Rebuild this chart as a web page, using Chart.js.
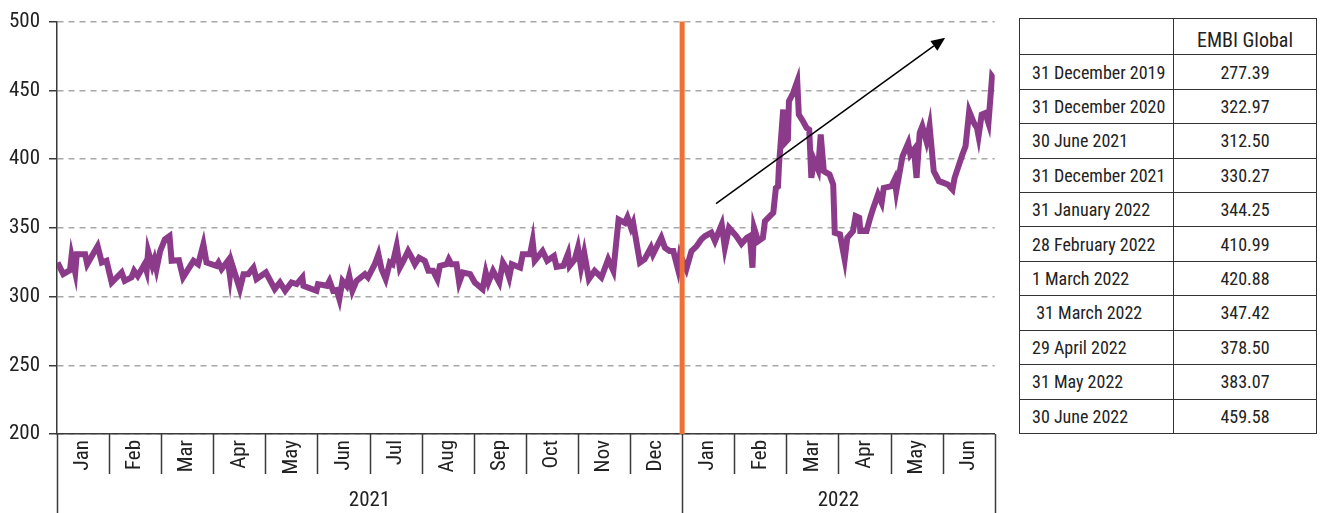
<!DOCTYPE html>
<html>
<head>
<meta charset="utf-8">
<script src="https://cdn.jsdelivr.net/npm/chart.js@4/dist/chart.umd.min.js"></script>
<style>
    html, body { margin: 0; padding: 0; background: #fff; }
    body { width: 1324px; height: 513px; position: relative; overflow: hidden; }
    #chartBox { position: absolute; left: 0; top: 0; width: 1000px; height: 513px; }
    #spreadTable {
        position: absolute; left: 1019px; top: 18px; width: 298px; height: 416px;
        border-collapse: collapse;
        font-family: 'Roboto Condensed', 'Roboto', sans-serif;
        font-size: 18px; color: #222; white-space: nowrap;
    }
    #spreadTable td { border: 1.5px solid #333; padding: 0 0 0 12px; height: 33px; }
    #spreadTable td.val { text-align: center; padding: 0; width: 142px; }
    #spreadTable tr.head td { vertical-align: bottom; padding-bottom: 2px; font-size: 20px; }
</style>
</head>
<body>
<div id="chartBox"><canvas id="spreadChart"></canvas></div>
<table id="spreadTable"></table>
<script>
// month labels under the axis
const months = ['Jan', 'Feb', 'Mar', 'Apr', 'May', 'Jun', 'Jul', 'Aug', 'Sep', 'Oct', 'Nov', 'Dec',
    'Jan', 'Feb', 'Mar', 'Apr', 'May', 'Jun'];
const years = ['2021', '2022'];
const yearBounds = [0, 12, 18];

// position in months since 1 Jan 2021, spread in bp
const monthPos = [
    0.01, 0.12, 0.25, 0.28, 0.35, 0.38, 0.54, 0.58, 0.67, 0.78, 0.86, 0.95,
    1.05, 1.24, 1.30, 1.43, 1.48, 1.55, 1.68, 1.72, 1.75, 1.83, 1.87, 1.91, 1.98,
    2.07, 2.16, 2.20, 2.34, 2.42, 2.62, 2.71, 2.81, 2.87,
    3.06, 3.10, 3.16, 3.28, 3.32, 3.35, 3.51, 3.58, 3.67, 3.77, 3.83,
    4.01, 4.18, 4.28, 4.38, 4.50, 4.60, 4.71, 4.73, 4.98,
    5.01, 5.18, 5.23, 5.30, 5.37, 5.42, 5.48, 5.56, 5.61, 5.67, 5.75, 5.91, 5.97,
    6.10, 6.17, 6.23, 6.31, 6.39, 6.44, 6.52, 6.58, 6.65, 6.74, 6.81, 6.87, 6.95,
    7.06, 7.13, 7.22, 7.30, 7.35, 7.48, 7.52, 7.57, 7.67, 7.72, 7.79, 7.93,
    8.02, 8.17, 8.23, 8.28, 8.37, 8.49, 8.56, 8.62, 8.68, 8.73, 8.89, 8.94,
    9.08, 9.13, 9.17, 9.32, 9.41, 9.54, 9.59, 9.72, 9.81, 9.84, 9.94,
    10.00, 10.06, 10.12, 10.21, 10.32, 10.45, 10.58, 10.68, 10.78, 10.90, 10.95,
    11.02, 11.06, 11.19, 11.28, 11.40, 11.44, 11.60, 11.67, 11.76, 11.83, 11.92, 11.96,
    12.08, 12.18, 12.28, 12.37, 12.44, 12.56, 12.63, 12.76, 12.82, 12.90,
    13.04, 13.14, 13.24, 13.30, 13.35, 13.38, 13.46, 13.55, 13.59, 13.75, 13.80, 13.84, 13.86, 13.94, 13.97,
    14.03, 14.05, 14.13, 14.21, 14.24, 14.32, 14.39, 14.44, 14.48, 14.53, 14.61, 14.66, 14.72, 14.83, 14.90, 14.93,
    15.03, 15.12, 15.17, 15.28, 15.33, 15.40, 15.42, 15.54, 15.61, 15.66, 15.76, 15.83, 15.87,
    16.02, 16.08, 16.11, 16.23, 16.34, 16.38, 16.45, 16.50, 16.56, 16.61, 16.69, 16.75, 16.83, 16.93,
    17.02, 17.10, 17.19, 17.23, 17.38, 17.44, 17.51, 17.60, 17.66, 17.69, 17.75, 17.82, 17.88, 17.95, 18.0
];
const embiSpread = [
    324.7, 316.3, 319.2, 329.5, 317.5, 330.7, 330.7, 323.5, 329.5, 336.7, 324.7, 326.0,
    310.2, 317.5, 311.4, 313.9, 318.7, 315.0, 323.5, 318.7, 333.0, 322.3, 327.0, 320.0, 333.0,
    341.6, 344.0, 326.0, 326.4, 313.9, 326.0, 323.5, 338.0, 324.7,
    322.3, 324.7, 320.0, 326.0, 315.0, 324.7, 305.4, 316.3, 316.3, 321.0, 312.7,
    317.5, 305.4, 310.2, 304.2, 310.2, 309.0, 313.9, 307.8, 304.2,
    309.0, 307.8, 311.4, 304.2, 304.7, 298.2, 311.4, 307.8, 315.0, 304.2, 311.4, 316.3, 313.9,
    323.5, 330.7, 320.0, 312.7, 324.7, 323.5, 336.7, 321.0, 326.0, 333.1, 328.3, 323.5, 328.3,
    326.0, 318.7, 318.7, 312.7, 322.3, 323.5, 327.0, 323.5, 323.5, 310.2, 317.5, 316.3,
    310.2, 305.4, 317.5, 310.2, 318.7, 310.2, 324.7, 321.0, 313.9, 323.5, 321.0, 330.7,
    330.7, 340.4, 326.0, 333.1, 326.0, 329.5, 321.6, 322.3, 331.2, 322.3, 327.1,
    335.5, 321.0, 331.9, 312.7, 318.7, 313.9, 327.1, 318.7, 356.0, 353.6, 357.7,
    350.0, 353.6, 324.7, 327.1, 335.5, 330.7, 342.8, 335.5, 333.1, 333.1, 319.9, 330.7,
    319.9, 333.1, 336.7, 341.6, 344.0, 346.4, 340.4, 352.4, 335.5, 350.0,
    344.0, 338.4, 342.7, 344.0, 321.0, 350.0, 340.3, 342.7, 354.8, 361.0, 379.0, 380.0, 396.0, 436.0, 411.7,
    414.2, 442.0, 448.0, 456.5, 432.3, 427.5, 422.6, 421.4, 386.3, 399.6, 392.4, 417.8, 391.2, 388.7, 381.5, 346.4,
    345.2, 327.0, 342.7, 347.6, 358.5, 357.3, 347.6, 347.6, 357.3, 363.3, 374.2, 368.2, 379.0,
    380.3, 385.1, 376.6, 402.0, 411.7, 403.3, 406.9, 386.3, 419.0, 423.9, 413.0, 423.9, 391.2, 383.9,
    382.7, 381.5, 377.8, 386.3, 403.3, 409.3, 434.7, 426.3, 422.6, 416.6, 432.3, 433.5, 426.3, 460.2, 457.7
];

// trend arrow, [month position, spread]
const arrowFrom = [12.65, 367.6];
const arrowTo = [17.05, 488.3];

// side table
const tableDates = ['31 December 2019', '31 December 2020', '30 June 2021', '31 December 2021',
    '31 January 2022', '28 February 2022', '1 March 2022', ' 31 March 2022', '29 April 2022',
    '31 May 2022', '30 June 2022'];
const tableValues = ['277.39', '322.97', '312.50', '330.27', '344.25', '410.99', '420.88',
    '347.42', '378.50', '383.07', '459.58'];

const FONT = "'Roboto Condensed', 'Roboto', sans-serif";
const DARK = '#3a3a3a';

function buildTable() {
    const table = document.getElementById('spreadTable');
    let html = '<tr class="head"><td></td><td class="val">EMBI Global</td></tr>';
    tableDates.forEach((d, i) => {
        html += `<tr><td>${d.replace(/^ /, '&nbsp;')}</td><td class="val">${tableValues[i]}</td></tr>`;
    });
    table.innerHTML = html;
}

const axisDecor = {
    id: 'axisDecor',
    afterDatasetsDraw(chart) {
        const { ctx, chartArea } = chart;
        const xs = chart.scales.x;
        const ys = chart.scales.y;
        const bottom = chartArea.bottom;

        ctx.save();
        ctx.strokeStyle = DARK;
        ctx.lineWidth = 1.5;

        // month separators
        for (let m = 1; m < months.length; m++) {
            if (yearBounds.includes(m)) continue;
            const px = Math.round(xs.getPixelForValue(m)) + 0.5;
            ctx.beginPath();
            ctx.moveTo(px, bottom);
            ctx.lineTo(px, bottom + 40);
            ctx.stroke();
        }

        // year separators
        yearBounds.forEach(b => {
            const px = Math.round(xs.getPixelForValue(b)) + 0.5;
            ctx.beginPath();
            ctx.moveTo(px, bottom);
            ctx.lineTo(px, chart.height);
            ctx.stroke();
        });

        // year labels
        ctx.fillStyle = '#222';
        ctx.font = `21px ${FONT}`;
        ctx.textAlign = 'center';
        ctx.textBaseline = 'middle';
        years.forEach((y, i) => {
            const mid = (xs.getPixelForValue(yearBounds[i]) + xs.getPixelForValue(yearBounds[i + 1])) / 2;
            ctx.fillText(y, mid, bottom + 67);
        });

        // start of 2022
        const px12 = xs.getPixelForValue(12);
        ctx.strokeStyle = '#F07034';
        ctx.lineWidth = 5;
        ctx.beginPath();
        ctx.moveTo(px12, chartArea.top);
        ctx.lineTo(px12, bottom);
        ctx.stroke();

        // trend arrow
        const x0 = xs.getPixelForValue(arrowFrom[0]);
        const y0 = ys.getPixelForValue(arrowFrom[1]);
        const x1 = xs.getPixelForValue(arrowTo[0]);
        const y1 = ys.getPixelForValue(arrowTo[1]);
        const ang = Math.atan2(y1 - y0, x1 - x0);
        const headLen = 14;
        const headW = 6;
        const bx = x1 - headLen * Math.cos(ang);
        const by = y1 - headLen * Math.sin(ang);
        ctx.strokeStyle = '#000';
        ctx.fillStyle = '#000';
        ctx.lineWidth = 1.5;
        ctx.beginPath();
        ctx.moveTo(x0, y0);
        ctx.lineTo(bx, by);
        ctx.stroke();
        ctx.beginPath();
        ctx.moveTo(x1, y1);
        ctx.lineTo(bx + headW * Math.sin(ang), by - headW * Math.cos(ang));
        ctx.lineTo(bx - headW * Math.sin(ang), by + headW * Math.cos(ang));
        ctx.closePath();
        ctx.fill();

        ctx.restore();
    }
};

function renderChart() {
    const ctx = document.getElementById('spreadChart').getContext('2d');
    Chart.defaults.font.family = FONT;
    Chart.defaults.color = '#222';

    new Chart(ctx, {
        type: 'line',
        data: {
            labels: months,
            datasets: [{
                data: monthPos.map((m, i) => ({ x: m, y: embiSpread[i] })),
                xAxisID: 'x',
                borderColor: '#8C3B8B',
                borderWidth: 6,
                pointRadius: 0,
                tension: 0,
                borderJoinStyle: 'miter'
            }]
        },
        plugins: [axisDecor],
        options: {
            responsive: true,
            maintainAspectRatio: false,
            animation: false,
            layout: { padding: { top: 19, right: 5, bottom: 39, left: 0 } },
            plugins: { legend: { display: false }, tooltip: { enabled: false } },
            scales: {
                x: {
                    type: 'linear',
                    min: 0,
                    max: 18,
                    display: false
                },
                xm: {
                    type: 'category',
                    position: 'bottom',
                    labels: months,
                    offset: true,
                    grid: { display: false, drawTicks: false },
                    border: { display: true, color: DARK, width: 1.5 },
                    ticks: {
                        minRotation: 90,
                        maxRotation: 90,
                        autoSkip: false,
                        padding: 6,
                        font: { size: 21 },
                        color: '#222'
                    },
                    afterFit: s => { s.height = 40; }
                },
                y: {
                    min: 200,
                    max: 500,
                    ticks: { stepSize: 50, padding: 9, font: { size: 21 }, color: '#222' },
                    grid: {
                        color: '#a8a8a8',
                        lineWidth: 1.5,
                        tickColor: DARK,
                        tickLength: 8,
                        tickBorderDash: []
                    },
                    border: { color: DARK, width: 1.5, dash: [6, 5] },
                    afterFit: s => { s.width = 57; }
                }
            }
        }
    });
}

document.addEventListener('DOMContentLoaded', () => {
    buildTable();
    renderChart();
});
</script>
</body>
</html>
